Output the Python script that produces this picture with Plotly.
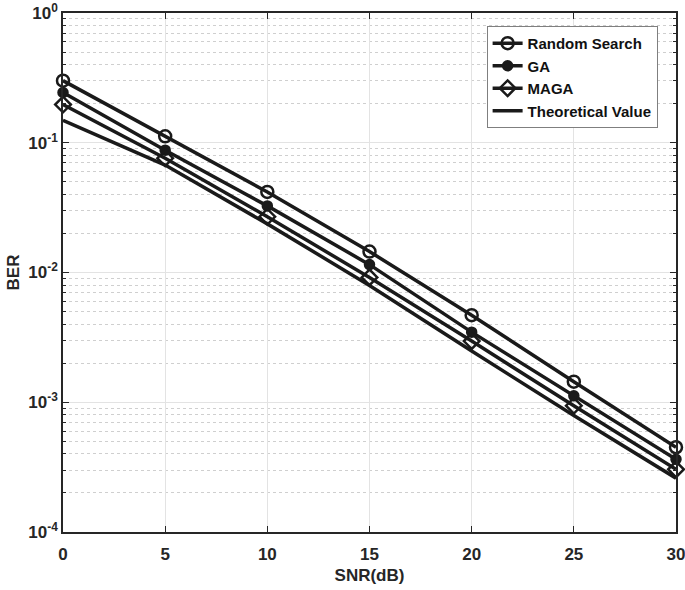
import plotly.graph_objects as go

# SNR points (dB)
snr_db = [0, 5, 10, 15, 20, 25, 30]

# BER values
ber_random = [0.301, 0.112, 0.0418, 0.0145, 0.00469, 0.00144, 0.00045]
ber_ga = [0.244, 0.0877, 0.0326, 0.0115, 0.00347, 0.00112, 0.000363]
ber_maga = [0.197, 0.076, 0.0269, 0.00916, 0.00296, 0.00094, 0.000304]
ber_theory = [0.149, 0.0673, 0.0237, 0.00795, 0.00248, 0.00079, 0.00026]

y_tickvals = [1e-4, 1e-3, 1e-2, 1e-1, 1]
y_ticktext = ["10<sup>-4</sup>", "10<sup>-3</sup>", "10<sup>-2</sup>",
              "10<sup>-1</sup>", "10<sup>0</sup>"]

font_main = "Liberation Sans, Arial, sans-serif"
ink = "#262626"

fig = go.Figure()

series = [
    ("Random Search", ber_random, "circle-open", 12),
    ("GA", ber_ga, "circle", 9),
    ("MAGA", ber_maga, "diamond-open", 12),
]
for name, ys, sym, sz in series:
    fig.add_trace(go.Scatter(
        x=snr_db, y=ys, name=name, mode="lines+markers", cliponaxis=False,
        line=dict(color="#1a1a1a", width=3.5),
        marker=dict(symbol=sym, size=sz, color="#1a1a1a",
                    line=dict(width=2.5, color="#1a1a1a")),
    ))

fig.add_trace(go.Scatter(
    x=snr_db, y=ber_theory, name="Theoretical Value", mode="lines",
    cliponaxis=False, line=dict(color="#1a1a1a", width=3.5),
))

# minor gridlines at 2..9 of each decade
minor_vals = [m * 10.0 ** e for e in range(-4, 0) for m in range(2, 10)]

fig.update_layout(
    width=685, height=590,
    margin=dict(l=63, r=9, t=13, b=58),
    paper_bgcolor="white", plot_bgcolor="white",
    font=dict(family=font_main, color=ink, size=16),
    showlegend=True,
    legend=dict(
        x=0.97, y=0.975, xanchor="right", yanchor="top",
        bgcolor="white", bordercolor="#7f7f7f", borderwidth=1,
        font=dict(family=font_main, size=15, color="#111111", weight="bold"),
        tracegroupgap=0,
    ),
    xaxis=dict(
        range=[0, 30], tickvals=snr_db, ticks="inside", ticklen=6,
        tickcolor=ink, showline=True, linecolor=ink, linewidth=1.5,
        mirror="ticks", showgrid=True, gridcolor="#e3e3e3", gridwidth=1,
        zeroline=False, automargin=False, ticklabeloverflow="allow",
        ticklabelstandoff=6,
        tickfont=dict(size=17, weight="bold", color=ink),
        title=dict(text="SNR(dB)", font=dict(size=17, weight="bold", color=ink),
                   standoff=6),
    ),
    yaxis=dict(
        type="log", range=[-4, 0], tickvals=y_tickvals, ticktext=y_ticktext,
        ticks="inside", ticklen=6, tickcolor=ink, showline=True,
        linecolor=ink, linewidth=1.5, mirror="ticks",
        showgrid=True, gridcolor="#e3e3e3", gridwidth=1, zeroline=False,
        automargin=False, ticklabeloverflow="allow",
        tickfont=dict(size=17, weight="bold", color=ink),
        title=dict(text="BER", font=dict(size=17, weight="bold", color=ink),
                   standoff=4),
        minor=dict(tickvals=minor_vals, ticks="inside", ticklen=3,
                   tickcolor=ink, showgrid=True, gridcolor="#cfcfcf",
                   griddash="dot", gridwidth=1),
    ),
)

# drop the default page margin so the figure fills the window
fig.write_html("out.html", config={"displayModeBar": False},
               post_script="document.body.style.margin='0';")
